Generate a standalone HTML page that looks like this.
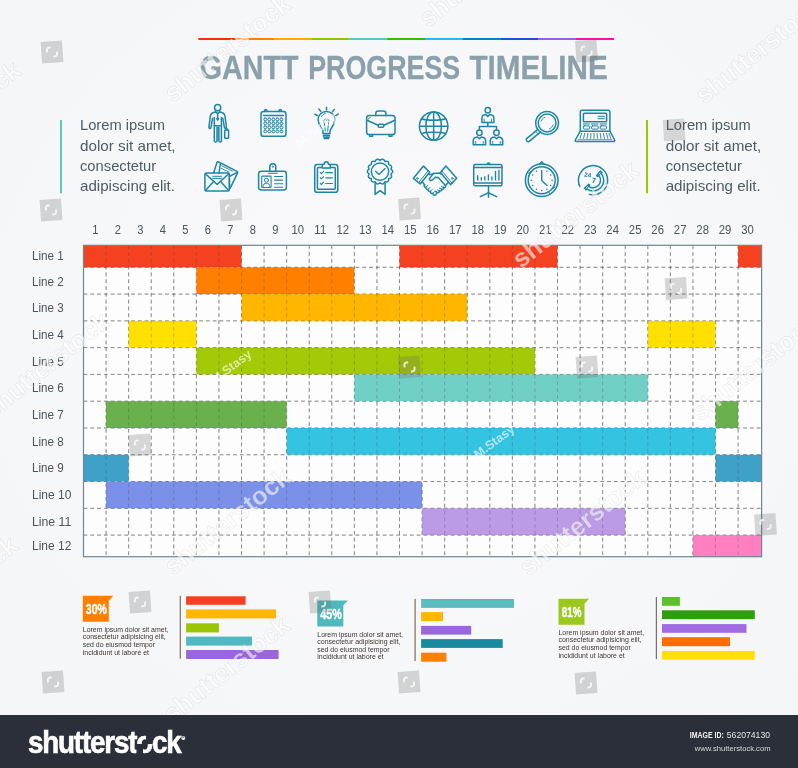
<!DOCTYPE html>
<html lang="en"><head><meta charset="utf-8"><title>Gantt Progress Timeline</title>
<style>html,body{margin:0;padding:0;background:#f6f7f9;}body{width:798px;height:768px;overflow:hidden;}svg{display:block;will-change:transform;}text{font-family:"Liberation Sans",sans-serif;}</style></head><body>
<svg width="798" height="768" viewBox="0 0 798 768">
<defs><radialGradient id="bg" cx="50%" cy="45%" r="75%"><stop offset="0" stop-color="#fafafb"/><stop offset="1" stop-color="#f4f5f7"/></radialGradient></defs>
<rect width="798" height="768" fill="url(#bg)"/>
<g id="rainbow">
<rect x="198.30" y="38" width="38.06" height="2" fill="#f4300f"/>
<rect x="236.06" y="38" width="38.06" height="2" fill="#ff7f00"/>
<rect x="273.83" y="38" width="38.06" height="2" fill="#ffaa00"/>
<rect x="311.59" y="38" width="38.06" height="2" fill="#8cc400"/>
<rect x="349.35" y="38" width="38.06" height="2" fill="#55c8c8"/>
<rect x="387.12" y="38" width="38.06" height="2" fill="#44b400"/>
<rect x="424.88" y="38" width="38.06" height="2" fill="#1fbfe8"/>
<rect x="462.65" y="38" width="38.06" height="2" fill="#0088b8"/>
<rect x="500.41" y="38" width="38.06" height="2" fill="#2050e0"/>
<rect x="538.17" y="38" width="38.06" height="2" fill="#9a60e0"/>
<rect x="575.94" y="38" width="38.06" height="2" fill="#ff10a0"/>
</g>
<g id="title" font-weight="700" font-size="33.6" fill="#8aa0aa" stroke="#8aa0aa" stroke-width="0.3">
<text x="199.8" y="79.4" textLength="98.6" lengthAdjust="spacingAndGlyphs">GANTT</text>
<text x="308.2" y="79.4" textLength="152" lengthAdjust="spacingAndGlyphs">PROGRESS</text>
<text x="469.4" y="79.4" textLength="138.4" lengthAdjust="spacingAndGlyphs">TIMELINE</text>
</g>
<rect x="60" y="120" width="2" height="73.3" fill="#5cc8b8"/>
<g font-size="14.5" fill="#4d5d65">
<text x="80" y="130.4" textLength="85" lengthAdjust="spacingAndGlyphs">Lorem ipsum</text>
<text x="80" y="150.7" textLength="95.6" lengthAdjust="spacingAndGlyphs">dolor sit amet,</text>
<text x="80" y="170.8" textLength="76.2" lengthAdjust="spacingAndGlyphs">consectetur</text>
<text x="80" y="190.9" textLength="95" lengthAdjust="spacingAndGlyphs">adipiscing elit.</text>
</g>
<rect x="646" y="120" width="2" height="73.3" fill="#9bc800"/>
<g font-size="14.5" fill="#4d5d65">
<text x="665.7" y="130.4" textLength="85" lengthAdjust="spacingAndGlyphs">Lorem ipsum</text>
<text x="665.7" y="150.7" textLength="95.6" lengthAdjust="spacingAndGlyphs">dolor sit amet,</text>
<text x="665.7" y="170.8" textLength="76.2" lengthAdjust="spacingAndGlyphs">consectetur</text>
<text x="665.7" y="190.9" textLength="95" lengthAdjust="spacingAndGlyphs">adipiscing elit.</text>
</g>
<g id="icons" fill="none" stroke="#1e86a3" stroke-width="1.5" stroke-linecap="round" stroke-linejoin="round">
<!-- 1 businessman -->
<g>
<circle cx="217.65" cy="107.7" r="3.1"/>
<path d="M215.6,111.9 C212.6,112.3 210.6,113.6 210.3,116.2 L208.9,127.2 C208.8,128.6 210.6,128.9 210.9,127.5 L212.6,118.2"/>
<path d="M219.7,111.9 C222.7,112.3 224.7,113.6 225,116.2 L226.4,127 C226.5,128.4 224.7,128.7 224.4,127.3 L222.7,118.2"/>
<path d="M214.3,117.5 L214.3,141 C214.3,142.4 217,142.4 217,141 L217,127.5 L218.9,127.5 L218.9,141 C218.9,142.4 221.4,142.4 221.4,141 L221.4,117.5"/>
<path d="M214.3,125.7 L221.4,125.7"/>
<path d="M215.6,111.9 L217.65,113.6 L219.7,111.9 M217.65,113.6 L217.65,119 M216.8,118.6 L217.65,120.2 L218.5,118.6"/>
<rect x="217.2" y="128.3" width="1.5" height="12.6" fill="#2188a5" fill-opacity="0.45" stroke="none"/>
<rect x="224.7" y="130" width="3.9" height="8.3" rx="0.8"/>
<path d="M225.8,130 L225.8,128.9 L227.5,128.9 L227.5,130"/>
</g>
<!-- 2 calendar -->
<g>
<rect x="261" y="111.6" width="25" height="24.7" rx="2.6"/>
<path d="M264.6,111.6 L264.6,110.4 C264.6,109.2 266.9,109.2 266.9,110.4 L266.9,111.6 M279.1,111.6 L279.1,110.4 C279.1,109.2 281.4,109.2 281.4,110.4 L281.4,111.6"/>
<path d="M263.6,115.4 L283.4,115.4"/>
<g stroke-width="1">
<rect x="263.85" y="118.10" width="2.9" height="2.6" rx="1"/>
<rect x="267.85" y="118.10" width="2.9" height="2.6" rx="1"/>
<rect x="271.95" y="118.10" width="2.9" height="2.6" rx="1"/>
<rect x="275.95" y="118.10" width="2.9" height="2.6" rx="1"/>
<rect x="280.05" y="118.10" width="2.9" height="2.6" rx="1"/>
<rect x="263.85" y="122.00" width="2.9" height="2.6" rx="1"/>
<rect x="267.85" y="122.00" width="2.9" height="2.6" rx="1"/>
<rect x="271.95" y="122.00" width="2.9" height="2.6" rx="1"/>
<rect x="275.95" y="122.00" width="2.9" height="2.6" rx="1"/>
<rect x="280.05" y="122.00" width="2.9" height="2.6" rx="1"/>
<rect x="263.85" y="126.00" width="2.9" height="2.6" rx="1"/>
<rect x="267.85" y="126.00" width="2.9" height="2.6" rx="1"/>
<rect x="271.95" y="126.00" width="2.9" height="2.6" rx="1"/>
<rect x="275.95" y="126.00" width="2.9" height="2.6" rx="1"/>
<rect x="280.05" y="126.00" width="2.9" height="2.6" rx="1"/>
<rect x="263.85" y="130.10" width="2.9" height="2.6" rx="1"/>
<rect x="267.85" y="130.10" width="2.9" height="2.6" rx="1"/>
<rect x="271.95" y="130.10" width="2.9" height="2.6" rx="1"/>
<rect x="275.95" y="130.10" width="2.9" height="2.6" rx="1"/>
<rect x="280.05" y="130.10" width="2.9" height="2.6" rx="1"/>
</g>
</g>
<!-- 3 bulb -->
<g>
<path d="M322.9,133.6 L322.9,131.2 C322.9,128.6 318.1,125.6 318.1,119.7 C318.1,115 321.8,111.4 326.4,111.4 C331,111.4 334.8,115 334.8,119.7 C334.8,125.6 330,128.6 330,131.2 L330,133.6 Z"/>
<path d="M323.4,135.3 L329.5,135.3 M323.4,136.9 L329.5,136.9 M324.3,138.5 L328.6,138.5" stroke-width="1.5"/>
<path d="M325.3,131 L324,120.5 L325.6,118.8 L326.5,120.6 L327.5,118.8 L328.9,120.5 L327.6,131" stroke-width="1"/>
<path d="M321.5,116.5 C322.3,114.9 323.6,113.9 325.2,113.5" stroke-width="1"/>
<path d="M326.5,107.2 L326.5,109.9 M318.9,109.1 L320.8,111.4 M334.3,109.4 L332.4,111.8 M314.9,114.3 L317.4,115.5 M338.3,114.1 L335.8,115.5"/>
</g>
<!-- 4 briefcase -->
<g>
<rect x="366.6" y="115.4" width="28.4" height="19.1" rx="2.6"/>
<path d="M375.8,115.4 L375.8,113.4 C375.8,111.8 376.8,110.9 378.3,110.9 L383.4,110.9 C384.9,110.9 385.9,111.8 385.9,113.4 L385.9,115.4"/>
<path d="M366.9,120.3 L378.3,125.2 M383.7,125.2 L394.8,120.3"/>
<rect x="378.3" y="124.2" width="5.4" height="3" rx="0.9"/>
<path d="M369.6,134.5 L369.6,136.3 L372.6,136.3 L372.6,134.5 M389,134.5 L389,136.3 L392,136.3 L392,134.5"/>
<path d="M368.7,119.2 C368.7,118.1 369.3,117.5 370.3,117.5" stroke-width="0.9"/>
</g>
<!-- 5 globe -->
<g>
<circle cx="433.65" cy="126.15" r="14.2"/>
<ellipse cx="433.65" cy="126.15" rx="7.8" ry="14.2"/>
<path d="M433.65,112 L433.65,140.3 M419.5,126.15 L447.8,126.15"/>
<path d="M421.6,118.7 C426,120.6 441.3,120.6 445.7,118.7 M421.6,133.6 C426,131.7 441.3,131.7 445.7,133.6"/>
</g>
<!-- 6 hierarchy -->
<g>
<circle cx="487.8" cy="110.3" r="2.7"/>
<path d="M481.9,122.4 L481.9,118.4 C481.9,116 483.6,114.8 485.9,114.6 L487.8,116.4 L489.7,114.6 C492,114.8 493.9,116 493.9,118.4 L493.9,122.4 Z"/>
<path d="M484.2,122.2 L484.2,119 M491.5,122.2 L491.5,119" stroke-width="0.9"/>
<path d="M487.8,122.4 L487.8,126.4 M479.4,129.6 L479.4,126.4 L496.5,126.4 L496.5,129.6"/>
<circle cx="479.4" cy="132.7" r="2.7"/>
<path d="M473.2,144.7 L473.2,140.8 C473.2,138.4 475.1,137.2 477.4,137 L479.4,138.8 L481.4,137 C483.7,137.2 485.6,138.4 485.6,140.8 L485.6,144.7 Z"/>
<path d="M475.6,144.5 L475.6,141.4 M483.2,144.5 L483.2,141.4" stroke-width="0.9"/>
<circle cx="496.5" cy="132.7" r="2.7"/>
<path d="M490.3,144.7 L490.3,140.8 C490.3,138.4 492.2,137.2 494.5,137 L496.5,138.8 L498.5,137 C500.8,137.2 502.7,138.4 502.7,140.8 L502.7,144.7 Z"/>
<path d="M492.7,144.5 L492.7,141.4 M500.3,144.5 L500.3,141.4" stroke-width="0.9"/>
</g>
<!-- 7 magnifier -->
<g>
<circle cx="547.1" cy="123" r="11.4"/>
<circle cx="547.1" cy="123" r="8.9"/>
<path d="M537.9,129.4 L526.6,138.6 C525.2,139.9 527.6,142.6 529.2,141.3 L540.6,131.9"/>
<path d="M541.2,121.2 C541.7,119.4 543,118 544.8,117.3 M553,124.9 C552.5,126.7 551.2,128.1 549.4,128.8" stroke-width="0.9"/>
<path d="M535.6,131.2 L538.2,134" stroke-width="0.9"/>
</g>
<!-- 8 laptop -->
<g>
<path d="M580.3,131.2 L580.3,112 C580.3,110.8 581,110.2 582.2,110.2 L608,110.2 C609.2,110.2 609.9,110.8 609.9,112 L609.9,131.2"/>
<path d="M580.3,131.2 L609.9,131.2 L614.7,140 C615,141 614.6,141.4 613.6,141.4 L576.4,141.4 C575.4,141.4 575,141 575.3,140 Z"/>
<rect x="583.4" y="113.3" width="23.2" height="8.4" rx="0.8"/>
<path d="M598,116.3 L604.4,116.3 M598,118.7 L604.4,118.7" stroke-width="1"/>
<path d="M583.4,124 L589.4,124 M591.4,124 L598,124 M600.2,124 L606.6,124" stroke-width="1"/>
<rect x="583.4" y="125.9" width="6.3" height="3.2" rx="0.8" stroke-width="1"/>
<rect x="591.6" y="125.9" width="6.6" height="3.2" rx="0.8" stroke-width="1"/>
<rect x="600.2" y="125.9" width="6.4" height="3.2" rx="0.8" stroke-width="1"/>
<path d="M581.6,133.4 L580,138.4 M584.7,133.4 L583.6,138.4 M587.8,133.4 L587.1,138.4 M590.9,133.4 L590.6,138.4 M594,133.4 L594,138.4 M597.1,133.4 L597.4,138.4 M600.2,133.4 L600.9,138.4 M603.3,133.4 L604.4,138.4 M606.4,133.4 L607.9,138.4 M609,133.4 L610.8,138.4" stroke-width="0.9"/>
<path d="M578,139.7 L612,139.7" stroke-width="0.8"/>
</g>
<!-- 9 envelopes -->
<g>
<path d="M213.6,173 L217,162.3 C217.3,161.6 217.9,161.7 218.6,162 L237,171.3 C237.8,171.8 237.9,172.4 237.5,173.2 L230.2,188.2"/>
<path d="M229.2,176.5 L236.8,172.6 M220.3,164.3 L219,173 M229.6,187.6 L229.4,178"/>
<path d="M221.8,165.9 L232.5,171.1 M221.2,168.3 L229,172.2" stroke-width="0.9"/>
<rect x="204.9" y="173" width="24.4" height="18" rx="1.6"/>
<path d="M205.4,173.7 L217.1,184.4 L228.8,173.7 M205.5,190.4 L213.6,181.4 M228.7,190.4 L220.6,181.4"/>
<path d="M212.8,176.3 L221.4,176.3 M212.8,178.4 L221.4,178.4" stroke-width="1"/>
</g>
<!-- 10 id badge -->
<g>
<rect x="258.6" y="171.3" width="27.8" height="18.6" rx="2.6"/>
<path d="M269.8,171.3 L269.8,166.8 C269.8,162.8 275.8,162.8 275.8,166.8 L275.8,171.3"/>
<path d="M268.3,173.3 L277.3,173.3" stroke-width="1.1"/>
<circle cx="272.8" cy="166.7" r="0.7" stroke-width="0.8"/>
<rect x="261.7" y="176.1" width="9.4" height="11.4" rx="0.8" stroke-width="1.05"/>
<circle cx="266.4" cy="180.2" r="2" stroke-width="1"/>
<path d="M262.9,187.2 C262.9,184.2 264.4,183.2 266.4,183.2 C268.4,183.2 269.9,184.2 269.9,187.2" stroke-width="1"/>
<path d="M274.6,176.5 L282.7,176.5 M274.6,180.1 L282.7,180.1 M274.6,183.7 L282.7,183.7 M274.6,187.2 L282.7,187.2" stroke-width="1.1"/>
</g>
<!-- 11 clipboard -->
<g>
<rect x="314.7" y="164.5" width="23.1" height="27.8" rx="2.6"/>
<rect x="317.4" y="167.6" width="17.9" height="21.6" rx="0.9"/>
<path d="M322.3,167.9 L322.3,165.4 C322.3,164.6 322.8,164.2 323.6,164.2 L324.2,164.2 C324.2,160.9 328.4,160.9 328.4,164.2 L329,164.2 C329.8,164.2 330.3,164.6 330.3,165.4 L330.3,167.9 Z" fill="#f6f7f9"/>
<path d="M320.2,172.5 L321.4,173.7 L323.6,171.4 M320.2,177.7 L321.4,178.9 L323.6,176.6 M320.2,183.3 L321.4,184.5 L323.6,182.2" stroke-width="1.1"/>
<path d="M325.8,172.7 L332.4,172.7 M325.8,177.8 L332.4,177.8 M325.8,183.5 L332.4,183.5" stroke-width="1.2"/>
</g>
<!-- 12 award -->
<g>
<path d="M380.00,160.40 Q383.23,157.46 384.86,161.51 Q389.04,160.26 388.76,164.62 Q393.06,165.31 390.92,169.11 Q394.50,171.60 390.92,174.09 Q393.06,177.89 388.76,178.58 Q389.04,182.94 384.86,181.69 Q383.23,185.74 380.00,182.80 Q376.77,185.74 375.14,181.69 Q370.96,182.94 371.24,178.58 Q366.94,177.89 369.08,174.09 Q365.50,171.60 369.08,169.11 Q366.94,165.31 371.24,164.62 Q370.96,160.26 375.14,161.51 Q376.77,157.46 380.00,160.40 Z"/>
<circle cx="380" cy="171.6" r="8.7"/>
<path d="M375.6,171.2 L379,174.4 L385,168.6" stroke-width="1.35"/>
<path d="M375.1,183.6 L375.1,194.4 L380.1,190.7 L385.1,194.4 L385.1,183.6"/>
</g>
<!-- 13 handshake -->
<g>
<path d="M423.5,166.1 L429.7,172.3 L420.2,183.9 L413.4,178.3 Z"/>
<path d="M445.9,166.1 L456.7,178.3 L450.5,184.6 L440.4,172.4 Z"/>
<path d="M428.2,170.8 L418.7,182.4 M441.9,170.9 L452,183.1" stroke-width="1"/>
<circle cx="417.4" cy="178.4" r="0.9" stroke-width="0.9"/>
<circle cx="452.3" cy="178.4" r="0.9" stroke-width="0.9"/>
<path d="M428.2,174 C430.4,175 432,174.6 433.6,173.4 L440.1,173 L441.8,174.3"/>
<path d="M422.3,182 L424.6,184.8 M448.3,182.4 L445.4,185.6"/>
<path d="M433.6,173.4 L429.6,178.4 C428.9,179.8 430.6,181.1 432,180.2 L435.4,177.2 L438.2,177.4 L445.4,185.6 C446.2,186.8 444.8,188.2 443.6,187.4"/>
<path d="M443.6,187.4 C444.2,188.7 442.8,189.9 441.6,189.1 M441.6,189.1 C442.1,190.5 440.6,191.6 439.4,190.8 M439.4,190.8 C439.8,192.3 438.2,193.2 437,192.4 L435.6,191.2"/>
<path d="M441.4,186.4 L443.6,187.4 M439.4,188.2 L441.6,189.1 M437.4,190 L439.4,190.8" stroke-width="0.9"/>
<path d="M424.6,184.8 C423.4,186 424.6,187.8 426.1,187 M426.1,187 C425.2,188.5 426.7,190 428.2,189.1 M428.2,189.1 C427.5,190.7 429,192 430.5,191.2 M430.5,191.2 C430,192.8 431.6,194 433,193.2 M433,193.2 C432.8,194.8 434.4,195.9 435.7,195 L437,192.4"/>
<path d="M426.1,187 L427.9,185.4 M428.2,189.1 L430.2,187.3 M430.5,191.2 L432.4,189.4 M433,193.2 L434.6,191.5" stroke-width="0.9"/>
</g>
<!-- 14 presentation -->
<g>
<rect x="473.7" y="164.5" width="28.3" height="21.3" rx="1.6"/>
<path d="M474.2,167.4 L501.5,167.4 M474.2,183 L501.5,183"/>
<path d="M487.2,164.3 C487.2,162.6 489.8,162.6 489.8,164.3"/>
<path d="M477.7,180.6 L477.7,175.2 M481.3,180.6 L481.3,177.2 M484.8,180.6 L484.8,176.2 M488.4,180.6 L488.4,174.4 M491.9,180.6 L491.9,176.6 M495.5,180.6 L495.5,171 M498.9,180.6 L498.9,169.7" stroke-width="1.35" stroke-linecap="butt"/>
<path d="M488.5,185.8 L488.5,197.2 M488.5,192.8 L480.4,196.6 M488.5,192.8 L496.6,196.6"/>
</g>
<!-- 15 clock -->
<g>
<circle cx="541.7" cy="180.2" r="16.3"/>
<circle cx="541.7" cy="180.2" r="13.5"/>
<path d="M539.6,164 L541.7,161.9 L543.8,164"/>
<path d="M541.7,170.4 L541.7,180.6 L547,185.5" stroke-width="1.35"/>
<path d="M528.4,173.3 L530.6,172 M552.8,188.4 L555,187.1 M548.6,192 L550.2,194.4" stroke-width="0.9"/>
<g fill="#1a7f9c" stroke="none">
<circle cx="546.90" cy="171.19" r="0.75"/>
<circle cx="550.71" cy="175.00" r="0.75"/>
<circle cx="552.10" cy="180.20" r="0.75"/>
<circle cx="550.71" cy="185.40" r="0.75"/>
<circle cx="546.90" cy="189.21" r="0.75"/>
<circle cx="541.70" cy="190.60" r="0.75"/>
<circle cx="536.50" cy="189.21" r="0.75"/>
<circle cx="532.69" cy="185.40" r="0.75"/>
<circle cx="531.30" cy="180.20" r="0.75"/>
<circle cx="532.69" cy="175.00" r="0.75"/>
<circle cx="536.50" cy="171.19" r="0.75"/>
</g>
</g>
<!-- 16 phone 24/7 -->
<g>
<path d="M579.82,186.43 A14.6,14.6 0 1 1 589.39,194.39"/>
<path d="M596.68,175.61 L600.31,170.96 L601.96,172.52 L601.13,173.24 A10.7,10.7 0 0 1 586.76,188.92 L586.11,189.81 L584.42,188.31 L588.74,184.28 L589.58,185.03 L588.64,186.33 A7.5,7.5 0 0 0 598.71,175.34 L597.50,176.39 Z"/><path d="M597.50,176.39 L601.96,172.52 M589.58,185.03 L586.11,189.81" stroke-width="1"/>
</g>
</g>
<g id="t247" font-weight="700" fill="#1a7f9c"><text x="584" y="176.4" font-size="6.2" textLength="7" lengthAdjust="spacingAndGlyphs" transform="rotate(8 584 176.4)">24</text><text x="591.4" y="182.8" font-size="7.4" transform="rotate(8 591.4 182.8)">7</text></g>

<rect x="83.5" y="245.3" width="678.1" height="311.40000000000003" fill="#fdfdfd"/>
<g id="grid" stroke="#6e6e6e" stroke-opacity="0.62" stroke-width="0.95" stroke-dasharray="3.8 3" fill="none">
<line x1="106.07" y1="245.3" x2="106.07" y2="556.7"/>
<line x1="128.64" y1="245.3" x2="128.64" y2="556.7"/>
<line x1="151.22" y1="245.3" x2="151.22" y2="556.7"/>
<line x1="173.79" y1="245.3" x2="173.79" y2="556.7"/>
<line x1="196.36" y1="245.3" x2="196.36" y2="556.7"/>
<line x1="218.93" y1="245.3" x2="218.93" y2="556.7"/>
<line x1="241.50" y1="245.3" x2="241.50" y2="556.7"/>
<line x1="264.08" y1="245.3" x2="264.08" y2="556.7"/>
<line x1="286.65" y1="245.3" x2="286.65" y2="556.7"/>
<line x1="309.22" y1="245.3" x2="309.22" y2="556.7"/>
<line x1="331.79" y1="245.3" x2="331.79" y2="556.7"/>
<line x1="354.36" y1="245.3" x2="354.36" y2="556.7"/>
<line x1="376.94" y1="245.3" x2="376.94" y2="556.7"/>
<line x1="399.51" y1="245.3" x2="399.51" y2="556.7"/>
<line x1="422.08" y1="245.3" x2="422.08" y2="556.7"/>
<line x1="444.65" y1="245.3" x2="444.65" y2="556.7"/>
<line x1="467.22" y1="245.3" x2="467.22" y2="556.7"/>
<line x1="489.80" y1="245.3" x2="489.80" y2="556.7"/>
<line x1="512.37" y1="245.3" x2="512.37" y2="556.7"/>
<line x1="534.94" y1="245.3" x2="534.94" y2="556.7"/>
<line x1="557.51" y1="245.3" x2="557.51" y2="556.7"/>
<line x1="580.08" y1="245.3" x2="580.08" y2="556.7"/>
<line x1="602.66" y1="245.3" x2="602.66" y2="556.7"/>
<line x1="625.23" y1="245.3" x2="625.23" y2="556.7"/>
<line x1="647.80" y1="245.3" x2="647.80" y2="556.7"/>
<line x1="670.37" y1="245.3" x2="670.37" y2="556.7"/>
<line x1="692.94" y1="245.3" x2="692.94" y2="556.7"/>
<line x1="715.52" y1="245.3" x2="715.52" y2="556.7"/>
<line x1="738.09" y1="245.3" x2="738.09" y2="556.7"/>
<line x1="83.5" y1="267.30" x2="761.6" y2="267.30"/>
<line x1="83.5" y1="294.08" x2="761.6" y2="294.08"/>
<line x1="83.5" y1="320.86" x2="761.6" y2="320.86"/>
<line x1="83.5" y1="347.64" x2="761.6" y2="347.64"/>
<line x1="83.5" y1="374.42" x2="761.6" y2="374.42"/>
<line x1="83.5" y1="401.20" x2="761.6" y2="401.20"/>
<line x1="83.5" y1="427.98" x2="761.6" y2="427.98"/>
<line x1="83.5" y1="454.76" x2="761.6" y2="454.76"/>
<line x1="83.5" y1="481.54" x2="761.6" y2="481.54"/>
<line x1="83.5" y1="508.32" x2="761.6" y2="508.32"/>
<line x1="83.5" y1="535.10" x2="761.6" y2="535.10"/>
</g>
<g id="bars">
<rect x="83.50" y="245.30" width="158.00" height="22.00" fill="#f4411f"/>
<rect x="399.51" y="245.30" width="158.00" height="22.00" fill="#f4411f"/>
<rect x="738.09" y="245.30" width="23.51" height="22.00" fill="#f4411f"/>
<rect x="196.36" y="267.30" width="158.00" height="26.78" fill="#ff7f00"/>
<rect x="241.50" y="294.08" width="225.72" height="26.78" fill="#ffb600"/>
<rect x="128.64" y="320.86" width="67.72" height="26.78" fill="#ffe000"/>
<rect x="647.80" y="320.86" width="67.72" height="26.78" fill="#ffe000"/>
<rect x="196.36" y="347.64" width="338.58" height="26.78" fill="#a4c906"/>
<rect x="354.36" y="374.42" width="293.44" height="26.78" fill="#70d0c6"/>
<rect x="106.07" y="401.20" width="180.58" height="26.78" fill="#6ab04c"/>
<rect x="715.52" y="401.20" width="22.57" height="26.78" fill="#6ab04c"/>
<rect x="286.65" y="427.98" width="428.87" height="26.78" fill="#34c3e0"/>
<rect x="83.50" y="454.76" width="45.14" height="26.78" fill="#3fa0c8"/>
<rect x="715.52" y="454.76" width="46.08" height="26.78" fill="#3fa0c8"/>
<rect x="106.07" y="481.54" width="316.01" height="26.78" fill="#7b90e8"/>
<rect x="422.08" y="508.32" width="203.15" height="26.78" fill="#bb9ae6"/>
<rect x="692.94" y="535.10" width="68.66" height="21.60" fill="#ff7fc0"/>
</g>
<g id="grid2" stroke="#444" stroke-opacity="0.3" stroke-width="0.95" stroke-dasharray="3.8 3" fill="none">
<line x1="106.07" y1="245.3" x2="106.07" y2="556.7"/>
<line x1="128.64" y1="245.3" x2="128.64" y2="556.7"/>
<line x1="151.22" y1="245.3" x2="151.22" y2="556.7"/>
<line x1="173.79" y1="245.3" x2="173.79" y2="556.7"/>
<line x1="196.36" y1="245.3" x2="196.36" y2="556.7"/>
<line x1="218.93" y1="245.3" x2="218.93" y2="556.7"/>
<line x1="241.50" y1="245.3" x2="241.50" y2="556.7"/>
<line x1="264.08" y1="245.3" x2="264.08" y2="556.7"/>
<line x1="286.65" y1="245.3" x2="286.65" y2="556.7"/>
<line x1="309.22" y1="245.3" x2="309.22" y2="556.7"/>
<line x1="331.79" y1="245.3" x2="331.79" y2="556.7"/>
<line x1="354.36" y1="245.3" x2="354.36" y2="556.7"/>
<line x1="376.94" y1="245.3" x2="376.94" y2="556.7"/>
<line x1="399.51" y1="245.3" x2="399.51" y2="556.7"/>
<line x1="422.08" y1="245.3" x2="422.08" y2="556.7"/>
<line x1="444.65" y1="245.3" x2="444.65" y2="556.7"/>
<line x1="467.22" y1="245.3" x2="467.22" y2="556.7"/>
<line x1="489.80" y1="245.3" x2="489.80" y2="556.7"/>
<line x1="512.37" y1="245.3" x2="512.37" y2="556.7"/>
<line x1="534.94" y1="245.3" x2="534.94" y2="556.7"/>
<line x1="557.51" y1="245.3" x2="557.51" y2="556.7"/>
<line x1="580.08" y1="245.3" x2="580.08" y2="556.7"/>
<line x1="602.66" y1="245.3" x2="602.66" y2="556.7"/>
<line x1="625.23" y1="245.3" x2="625.23" y2="556.7"/>
<line x1="647.80" y1="245.3" x2="647.80" y2="556.7"/>
<line x1="670.37" y1="245.3" x2="670.37" y2="556.7"/>
<line x1="692.94" y1="245.3" x2="692.94" y2="556.7"/>
<line x1="715.52" y1="245.3" x2="715.52" y2="556.7"/>
<line x1="738.09" y1="245.3" x2="738.09" y2="556.7"/>
<line x1="83.5" y1="267.30" x2="761.6" y2="267.30"/>
<line x1="83.5" y1="294.08" x2="761.6" y2="294.08"/>
<line x1="83.5" y1="320.86" x2="761.6" y2="320.86"/>
<line x1="83.5" y1="347.64" x2="761.6" y2="347.64"/>
<line x1="83.5" y1="374.42" x2="761.6" y2="374.42"/>
<line x1="83.5" y1="401.20" x2="761.6" y2="401.20"/>
<line x1="83.5" y1="427.98" x2="761.6" y2="427.98"/>
<line x1="83.5" y1="454.76" x2="761.6" y2="454.76"/>
<line x1="83.5" y1="481.54" x2="761.6" y2="481.54"/>
<line x1="83.5" y1="508.32" x2="761.6" y2="508.32"/>
<line x1="83.5" y1="535.10" x2="761.6" y2="535.10"/>
</g>
<rect x="83.5" y="245.3" width="678.1" height="311.40000000000003" fill="none" stroke="#6f8791" stroke-width="1.2"/>
<g id="cols" font-size="13.6" fill="#4a555c">
<text x="92.30" y="233.8" textLength="6.2" lengthAdjust="spacingAndGlyphs">1</text>
<text x="114.79" y="233.8" textLength="6.2" lengthAdjust="spacingAndGlyphs">2</text>
<text x="137.28" y="233.8" textLength="6.2" lengthAdjust="spacingAndGlyphs">3</text>
<text x="159.77" y="233.8" textLength="6.2" lengthAdjust="spacingAndGlyphs">4</text>
<text x="182.26" y="233.8" textLength="6.2" lengthAdjust="spacingAndGlyphs">5</text>
<text x="204.75" y="233.8" textLength="6.2" lengthAdjust="spacingAndGlyphs">6</text>
<text x="227.24" y="233.8" textLength="6.2" lengthAdjust="spacingAndGlyphs">7</text>
<text x="249.73" y="233.8" textLength="6.2" lengthAdjust="spacingAndGlyphs">8</text>
<text x="272.22" y="233.8" textLength="6.2" lengthAdjust="spacingAndGlyphs">9</text>
<text x="291.51" y="233.8" textLength="12.6" lengthAdjust="spacingAndGlyphs">10</text>
<text x="314.00" y="233.8" textLength="12.6" lengthAdjust="spacingAndGlyphs">11</text>
<text x="336.49" y="233.8" textLength="12.6" lengthAdjust="spacingAndGlyphs">12</text>
<text x="358.98" y="233.8" textLength="12.6" lengthAdjust="spacingAndGlyphs">13</text>
<text x="381.47" y="233.8" textLength="12.6" lengthAdjust="spacingAndGlyphs">14</text>
<text x="403.96" y="233.8" textLength="12.6" lengthAdjust="spacingAndGlyphs">15</text>
<text x="426.45" y="233.8" textLength="12.6" lengthAdjust="spacingAndGlyphs">16</text>
<text x="448.94" y="233.8" textLength="12.6" lengthAdjust="spacingAndGlyphs">17</text>
<text x="471.43" y="233.8" textLength="12.6" lengthAdjust="spacingAndGlyphs">18</text>
<text x="493.92" y="233.8" textLength="12.6" lengthAdjust="spacingAndGlyphs">19</text>
<text x="516.41" y="233.8" textLength="12.6" lengthAdjust="spacingAndGlyphs">20</text>
<text x="538.90" y="233.8" textLength="12.6" lengthAdjust="spacingAndGlyphs">21</text>
<text x="561.39" y="233.8" textLength="12.6" lengthAdjust="spacingAndGlyphs">22</text>
<text x="583.88" y="233.8" textLength="12.6" lengthAdjust="spacingAndGlyphs">23</text>
<text x="606.37" y="233.8" textLength="12.6" lengthAdjust="spacingAndGlyphs">24</text>
<text x="628.86" y="233.8" textLength="12.6" lengthAdjust="spacingAndGlyphs">25</text>
<text x="651.35" y="233.8" textLength="12.6" lengthAdjust="spacingAndGlyphs">26</text>
<text x="673.84" y="233.8" textLength="12.6" lengthAdjust="spacingAndGlyphs">27</text>
<text x="696.33" y="233.8" textLength="12.6" lengthAdjust="spacingAndGlyphs">28</text>
<text x="718.82" y="233.8" textLength="12.6" lengthAdjust="spacingAndGlyphs">29</text>
<text x="741.31" y="233.8" textLength="12.6" lengthAdjust="spacingAndGlyphs">30</text>
</g>
<g id="rows" font-size="13.6" fill="#4a555c">
<text x="32" y="259.80" textLength="31.8" lengthAdjust="spacingAndGlyphs">Line 1</text>
<text x="32" y="285.80" textLength="31.8" lengthAdjust="spacingAndGlyphs">Line 2</text>
<text x="32" y="312.45" textLength="31.8" lengthAdjust="spacingAndGlyphs">Line 3</text>
<text x="32" y="339.10" textLength="31.8" lengthAdjust="spacingAndGlyphs">Line 4</text>
<text x="32" y="365.75" textLength="31.8" lengthAdjust="spacingAndGlyphs">Line 5</text>
<text x="32" y="392.40" textLength="31.8" lengthAdjust="spacingAndGlyphs">Line 6</text>
<text x="32" y="419.05" textLength="31.8" lengthAdjust="spacingAndGlyphs">Line 7</text>
<text x="32" y="445.70" textLength="31.8" lengthAdjust="spacingAndGlyphs">Line 8</text>
<text x="32" y="472.35" textLength="31.8" lengthAdjust="spacingAndGlyphs">Line 9</text>
<text x="32" y="499.00" textLength="39.3" lengthAdjust="spacingAndGlyphs">Line 10</text>
<text x="32" y="525.65" textLength="39.3" lengthAdjust="spacingAndGlyphs">Line 11</text>
<text x="32" y="549.80" textLength="39.3" lengthAdjust="spacingAndGlyphs">Line 12</text>
</g>
<polygon points="82.8,595.8 113.3,595.8 108.8,600.8 108.8,621.8 82.8,621.8" fill="#ff7f00"/>
<text x="85.8" y="614.3" font-size="15.2" font-weight="700" fill="#fff" stroke="#fff" stroke-width="0.45" textLength="21.0" lengthAdjust="spacingAndGlyphs">30%</text>
<g font-size="7.8" fill="#3f342f">
<text x="82.8" y="631.9" textLength="85.7" lengthAdjust="spacingAndGlyphs">Lorem ipsum dolor sit amet,</text>
<text x="82.8" y="639.4" textLength="83" lengthAdjust="spacingAndGlyphs">consectetur adipisicing elit,</text>
<text x="82.8" y="647.1" textLength="72.2" lengthAdjust="spacingAndGlyphs">sed do eiusmod tempor</text>
<text x="82.8" y="654.9" textLength="66.2" lengthAdjust="spacingAndGlyphs">incididunt ut labore et</text>
</g>
<rect x="179.70000000000002" y="595.8" width="1.2" height="62.9" fill="#7d6e66"/>
<rect x="186.1" y="596.3" width="59.5" height="8.5" fill="#f4411f"/>
<rect x="186.1" y="609.4" width="89.9" height="9.0" fill="#ffb600"/>
<rect x="186.1" y="623.3" width="32.8" height="9.1" fill="#9bc400"/>
<rect x="186.1" y="636.6" width="65.9" height="9.0" fill="#4fb8c0"/>
<rect x="186.1" y="650" width="92.5" height="9.0" fill="#9a66dd"/>
<polygon points="317.3,600.5 347.8,600.5 343.3,605.5 343.3,626.5 317.3,626.5" fill="#4fb8bc"/>
<text x="320.3" y="619.3" font-size="15.2" font-weight="700" fill="#fff" stroke="#fff" stroke-width="0.45" textLength="21.5" lengthAdjust="spacingAndGlyphs">45%</text>
<g font-size="7.8" fill="#3f342f">
<text x="317.3" y="636.6" textLength="85.7" lengthAdjust="spacingAndGlyphs">Lorem ipsum dolor sit amet,</text>
<text x="317.3" y="644.1" textLength="83" lengthAdjust="spacingAndGlyphs">consectetur adipisicing elit,</text>
<text x="317.3" y="651.9" textLength="72.2" lengthAdjust="spacingAndGlyphs">sed do eiusmod tempor</text>
<text x="317.3" y="659.4" textLength="66.2" lengthAdjust="spacingAndGlyphs">incididunt ut labore et</text>
</g>
<rect x="414.5" y="598.8" width="1.2" height="62.2" fill="#7d6e66"/>
<rect x="421.1" y="599" width="92.9" height="8.9" fill="#5bbcc0"/>
<rect x="421.1" y="612.1" width="21.9" height="9.0" fill="#ffb600"/>
<rect x="421.1" y="625.9" width="50.1" height="8.7" fill="#9a66dd"/>
<rect x="421.1" y="639.1" width="81.6" height="8.8" fill="#1a8aa0"/>
<rect x="421.1" y="652.7" width="25.3" height="9.0" fill="#ff7f00"/>
<polygon points="558.5,598.8 589.0,598.8 584.5,603.8 584.5,624.8 558.5,624.8" fill="#9bc81c"/>
<text x="561.8" y="617.3" font-size="15.2" font-weight="700" fill="#fff" stroke="#fff" stroke-width="0.45" textLength="19.6" lengthAdjust="spacingAndGlyphs">81%</text>
<g font-size="7.8" fill="#3f342f">
<text x="558.5" y="634.6" textLength="85.7" lengthAdjust="spacingAndGlyphs">Lorem ipsum dolor sit amet,</text>
<text x="558.5" y="642.1" textLength="83" lengthAdjust="spacingAndGlyphs">consectetur adipisicing elit,</text>
<text x="558.5" y="650" textLength="72.2" lengthAdjust="spacingAndGlyphs">sed do eiusmod tempor</text>
<text x="558.5" y="657.6" textLength="66.2" lengthAdjust="spacingAndGlyphs">incididunt ut labore et</text>
</g>
<rect x="655.8" y="597" width="1.2" height="62.1" fill="#7d6e66"/>
<rect x="662" y="597" width="17.9" height="8.8" fill="#5cc02c"/>
<rect x="662" y="610.3" width="92.8" height="8.8" fill="#2f9e0c"/>
<rect x="662" y="624.1" width="84.5" height="8.7" fill="#a06ae0"/>
<rect x="662" y="637.2" width="68.0" height="9.0" fill="#ff6d00"/>
<rect x="662" y="650.9" width="92.8" height="8.8" fill="#ffe000"/>
<g id="wm" font-weight="700" font-size="25.5" fill="#ffffff" fill-opacity="0.58" stroke="#8c8c8c" stroke-opacity="0.16" stroke-width="0.7">
<text x="173" y="103" textLength="153" lengthAdjust="spacingAndGlyphs" transform="rotate(-38.7 173 103)">shutterstock</text>
<text x="704" y="105" textLength="153" lengthAdjust="spacingAndGlyphs" transform="rotate(-38.7 704 105)">shutterstock</text>
<text x="521" y="269" textLength="153" lengthAdjust="spacingAndGlyphs" transform="rotate(-38.7 521 269)">shutterstock</text>
<text x="173" y="576" textLength="153" lengthAdjust="spacingAndGlyphs" transform="rotate(-38.7 173 576)">shutterstock</text>
<text x="528" y="577" textLength="153" lengthAdjust="spacingAndGlyphs" transform="rotate(-38.7 528 577)">shutterstock</text>
<text x="700" y="422" textLength="153" lengthAdjust="spacingAndGlyphs" transform="rotate(-38.7 700 422)">shutterstock</text>
<text x="-97" y="169" textLength="153" lengthAdjust="spacingAndGlyphs" transform="rotate(-38.7 -97 169)">shutterstock</text>
<text x="-8" y="420" textLength="153" lengthAdjust="spacingAndGlyphs" transform="rotate(-38.7 -8 420)">shutterstock</text>
<text x="-100" y="644" textLength="153" lengthAdjust="spacingAndGlyphs" transform="rotate(-38.7 -100 644)">shutterstock</text>
<text x="172" y="724" textLength="153" lengthAdjust="spacingAndGlyphs" transform="rotate(-38.7 172 724)">shutterstock</text>
<text x="428" y="28" textLength="153" lengthAdjust="spacingAndGlyphs" transform="rotate(-38.7 428 28)">shutterstock</text>
</g>
<g id="wm2" font-size="12.4" font-weight="700" fill="#ffffff" fill-opacity="0.62">
<text x="215" y="384" transform="rotate(-37 215 384)">M.Stasy</text>
<text x="478" y="459" transform="rotate(-37 478 459)">M.Stasy</text>
<text x="300" y="147" transform="rotate(-37 300 147)">M.Stasy</text>
</g>
<g id="wmsq">
<g transform="translate(52 52) rotate(-4)"><rect x="-10.7" y="-10.7" width="21.4" height="21.4" fill="#646464" fill-opacity="0.25"/><path d="M-1,-4.6 h-1.6 a2.4,2.4 0 0 0 -2.4,2.4 v2.2 M1,4.6 h1.6 a2.4,2.4 0 0 0 2.4,-2.4 v-2.2" fill="none" stroke="#fff" stroke-opacity="0.78" stroke-width="2"/></g>
<g transform="translate(586.5 51) rotate(-4)"><rect x="-10.7" y="-10.7" width="21.4" height="21.4" fill="#646464" fill-opacity="0.25"/><path d="M-1,-4.6 h-1.6 a2.4,2.4 0 0 0 -2.4,2.4 v2.2 M1,4.6 h1.6 a2.4,2.4 0 0 0 2.4,-2.4 v-2.2" fill="none" stroke="#fff" stroke-opacity="0.78" stroke-width="2"/></g>
<g transform="translate(674 130) rotate(-4)"><rect x="-10.7" y="-10.7" width="21.4" height="21.4" fill="#646464" fill-opacity="0.22"/></g>
<g transform="translate(51 210) rotate(-4)"><rect x="-10.7" y="-10.7" width="21.4" height="21.4" fill="#646464" fill-opacity="0.25"/><path d="M-1,-4.6 h-1.6 a2.4,2.4 0 0 0 -2.4,2.4 v2.2 M1,4.6 h1.6 a2.4,2.4 0 0 0 2.4,-2.4 v-2.2" fill="none" stroke="#fff" stroke-opacity="0.78" stroke-width="2"/></g>
<g transform="translate(231 210) rotate(-4)"><rect x="-10.7" y="-10.7" width="21.4" height="21.4" fill="#646464" fill-opacity="0.25"/><path d="M-1,-4.6 h-1.6 a2.4,2.4 0 0 0 -2.4,2.4 v2.2 M1,4.6 h1.6 a2.4,2.4 0 0 0 2.4,-2.4 v-2.2" fill="none" stroke="#fff" stroke-opacity="0.78" stroke-width="2"/></g>
<g transform="translate(409.5 209) rotate(-4)"><rect x="-10.7" y="-10.7" width="21.4" height="21.4" fill="#646464" fill-opacity="0.25"/><path d="M-1,-4.6 h-1.6 a2.4,2.4 0 0 0 -2.4,2.4 v2.2 M1,4.6 h1.6 a2.4,2.4 0 0 0 2.4,-2.4 v-2.2" fill="none" stroke="#fff" stroke-opacity="0.78" stroke-width="2"/></g>
<g transform="translate(676 288.5) rotate(-4)"><rect x="-10.7" y="-10.7" width="21.4" height="21.4" fill="#646464" fill-opacity="0.25"/><path d="M-1,-4.6 h-1.6 a2.4,2.4 0 0 0 -2.4,2.4 v2.2 M1,4.6 h1.6 a2.4,2.4 0 0 0 2.4,-2.4 v-2.2" fill="none" stroke="#fff" stroke-opacity="0.78" stroke-width="2"/></g>
<g transform="translate(409.5 367) rotate(-4)"><rect x="-10.7" y="-10.7" width="21.4" height="21.4" fill="#646464" fill-opacity="0.25"/><path d="M-1,-4.6 h-1.6 a2.4,2.4 0 0 0 -2.4,2.4 v2.2 M1,4.6 h1.6 a2.4,2.4 0 0 0 2.4,-2.4 v-2.2" fill="none" stroke="#fff" stroke-opacity="0.78" stroke-width="2"/></g>
<g transform="translate(587 367) rotate(-4)"><rect x="-10.7" y="-10.7" width="21.4" height="21.4" fill="#646464" fill-opacity="0.25"/><path d="M-1,-4.6 h-1.6 a2.4,2.4 0 0 0 -2.4,2.4 v2.2 M1,4.6 h1.6 a2.4,2.4 0 0 0 2.4,-2.4 v-2.2" fill="none" stroke="#fff" stroke-opacity="0.78" stroke-width="2"/></g>
<g transform="translate(140 445) rotate(-4)"><rect x="-10.7" y="-10.7" width="21.4" height="21.4" fill="#646464" fill-opacity="0.25"/><path d="M-1,-4.6 h-1.6 a2.4,2.4 0 0 0 -2.4,2.4 v2.2 M1,4.6 h1.6 a2.4,2.4 0 0 0 2.4,-2.4 v-2.2" fill="none" stroke="#fff" stroke-opacity="0.78" stroke-width="2"/></g>
<g transform="translate(765.5 524.5) rotate(-4)"><rect x="-10.7" y="-10.7" width="21.4" height="21.4" fill="#646464" fill-opacity="0.25"/><path d="M-1,-4.6 h-1.6 a2.4,2.4 0 0 0 -2.4,2.4 v2.2 M1,4.6 h1.6 a2.4,2.4 0 0 0 2.4,-2.4 v-2.2" fill="none" stroke="#fff" stroke-opacity="0.78" stroke-width="2"/></g>
<g transform="translate(140 602) rotate(-4)"><rect x="-10.7" y="-10.7" width="21.4" height="21.4" fill="#646464" fill-opacity="0.25"/><path d="M-1,-4.6 h-1.6 a2.4,2.4 0 0 0 -2.4,2.4 v2.2 M1,4.6 h1.6 a2.4,2.4 0 0 0 2.4,-2.4 v-2.2" fill="none" stroke="#fff" stroke-opacity="0.78" stroke-width="2"/></g>
<g transform="translate(320 602) rotate(-4)"><rect x="-10.7" y="-10.7" width="21.4" height="21.4" fill="#646464" fill-opacity="0.25"/><path d="M-1,-4.6 h-1.6 a2.4,2.4 0 0 0 -2.4,2.4 v2.2 M1,4.6 h1.6 a2.4,2.4 0 0 0 2.4,-2.4 v-2.2" fill="none" stroke="#fff" stroke-opacity="0.78" stroke-width="2"/></g>
<g transform="translate(53 682) rotate(-4)"><rect x="-10.7" y="-10.7" width="21.4" height="21.4" fill="#646464" fill-opacity="0.25"/><path d="M-1,-4.6 h-1.6 a2.4,2.4 0 0 0 -2.4,2.4 v2.2 M1,4.6 h1.6 a2.4,2.4 0 0 0 2.4,-2.4 v-2.2" fill="none" stroke="#fff" stroke-opacity="0.78" stroke-width="2"/></g>
<g transform="translate(409 682) rotate(-4)"><rect x="-10.7" y="-10.7" width="21.4" height="21.4" fill="#646464" fill-opacity="0.25"/><path d="M-1,-4.6 h-1.6 a2.4,2.4 0 0 0 -2.4,2.4 v2.2 M1,4.6 h1.6 a2.4,2.4 0 0 0 2.4,-2.4 v-2.2" fill="none" stroke="#fff" stroke-opacity="0.78" stroke-width="2"/></g>
<g transform="translate(586 683) rotate(-4)"><rect x="-10.7" y="-10.7" width="21.4" height="21.4" fill="#646464" fill-opacity="0.25"/><path d="M-1,-4.6 h-1.6 a2.4,2.4 0 0 0 -2.4,2.4 v2.2 M1,4.6 h1.6 a2.4,2.4 0 0 0 2.4,-2.4 v-2.2" fill="none" stroke="#fff" stroke-opacity="0.78" stroke-width="2"/></g>
</g>
<rect x="0" y="715" width="798" height="53" fill="#2a2f3a"/>
<text x="28" y="752.6" font-size="30.5" font-weight="700" fill="#fff" stroke="#fff" stroke-width="0.6" letter-spacing="-1.3" textLength="152.6" lengthAdjust="spacingAndGlyphs">shutterstock</text>
<rect x="146" y="735" width="6.4" height="9" fill="#2a2f3a"/><rect x="136.5" y="744" width="6.5" height="10" fill="#2a2f3a"/>
<circle cx="183.3" cy="737.9" r="2" fill="#fff"/><text x="181.9" y="739.2" font-size="3.8" font-weight="700" fill="#2a2f3a">®</text>
<text x="689.8" y="738" font-size="8.6" font-weight="700" fill="#f2f2f2" textLength="34" lengthAdjust="spacingAndGlyphs">IMAGE ID:</text>
<text x="726.8" y="738" font-size="8.6" fill="#e4e4e4" textLength="43.2" lengthAdjust="spacingAndGlyphs">562074130</text>
<text x="694.8" y="750.8" font-size="7.9" fill="#d8d8d8" textLength="75.7" lengthAdjust="spacingAndGlyphs">www.shutterstock.com</text>
</svg></body></html>
